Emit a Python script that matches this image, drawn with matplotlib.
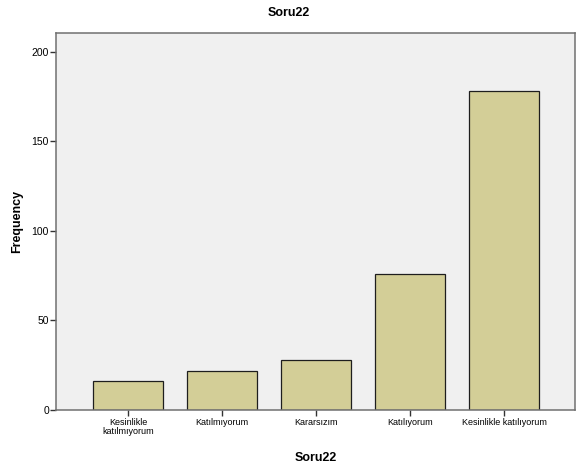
import matplotlib
matplotlib.use("Agg")
import matplotlib.pyplot as plt

plt.rcParams['font.family'] = ['Liberation Sans', 'DejaVu Sans']

categories = ["Kesinlikle\nkatılmıyorum", "Katılmıyorum", "Kararsızım",
              "Katılıyorum", "Kesinlikle katılıyorum"]
counts = [16, 22, 28, 76, 178]
yticks = [0, 50, 100, 150, 200]

fig = plt.figure(figsize=(5.77, 4.69), dpi=100)
ax = fig.add_axes([0.097, 0.1258, 0.9, 0.8038])
ax.set_facecolor("#F0F0F0")

x = list(range(len(categories)))
ax.bar(x, counts, width=0.745, color="#D3CE97", edgecolor="#1e1e1e", linewidth=0.9)

ax.set_xlim(-0.766, 4.755)
ax.set_ylim(0, 210.5)
ax.set_yticks(yticks)
ax.set_xticks(x)
ax.set_xticklabels(categories, fontsize=6.5, linespacing=0.9)
ax.tick_params(axis='y', labelsize=7.5, length=4, width=1, color="#333333", pad=1)
ax.tick_params(axis='x', length=4, width=1, color="#333333", pad=2)

for s in ax.spines.values():
    s.set_color("#707070")
    s.set_linewidth(1.1)

ax.set_xlabel("Soru22", fontsize=9, fontweight='bold', labelpad=12)
ax.set_ylabel("Frequency", fontsize=9, fontweight='bold', labelpad=6)
fig.text(0.5, 0.973, "Soru22", ha='center', va='center', fontsize=9, fontweight='bold')

fig.savefig("out.png", dpi=100, facecolor="white")
